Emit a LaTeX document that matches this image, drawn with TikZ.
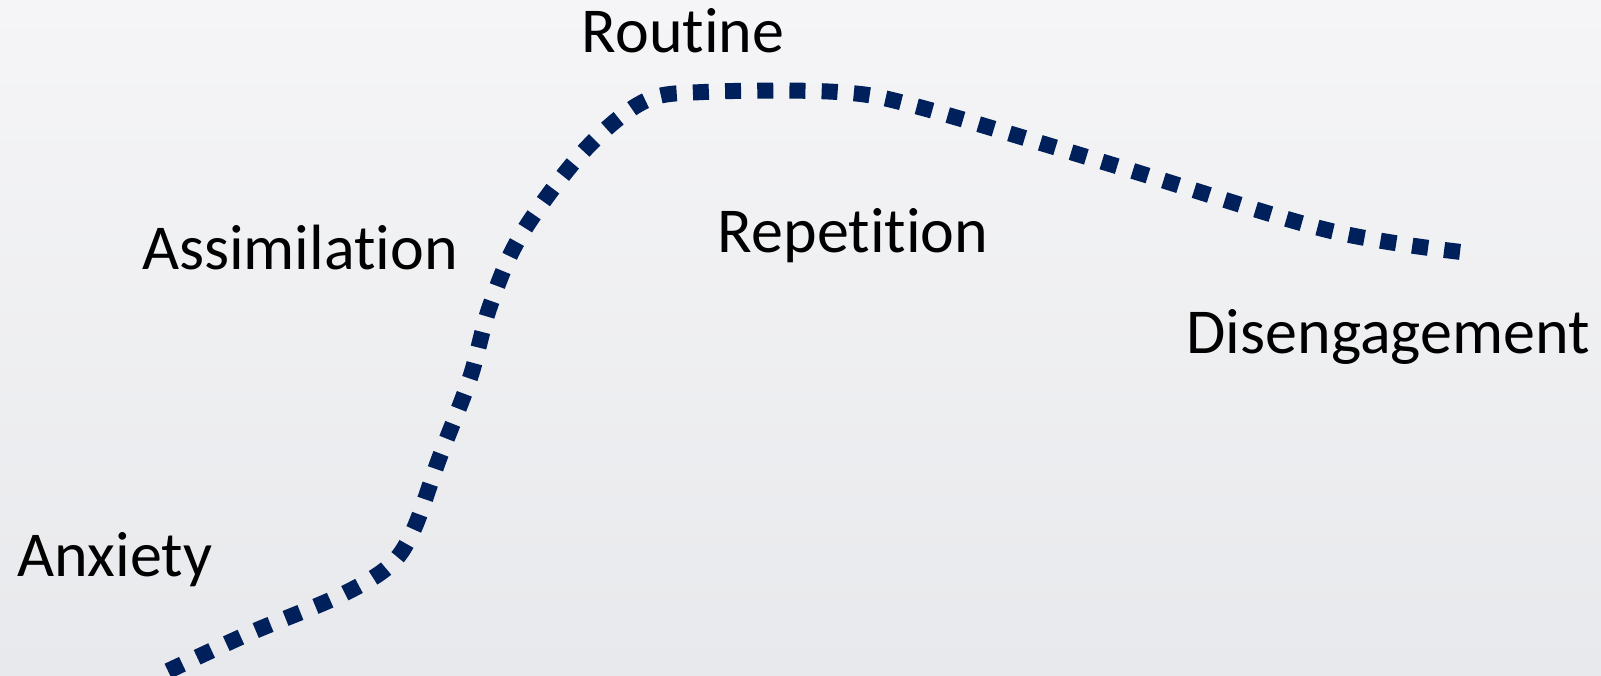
\documentclass[tikz,border=0pt]{standalone}
\usepackage{fontspec}
\setmainfont{Carlito}[Ligatures={NoCommon,NoRare,NoContextual}]
\definecolor{navy}{HTML}{00205B}
\definecolor{bgtop}{HTML}{F5F5F7}
\definecolor{bgbot}{HTML}{E8E9EC}
\begin{document}
\begin{tikzpicture}[x=1pt,y=1pt,
  lbl/.style={anchor=base,inner sep=0pt,font=\fontsize{64}{70}\selectfont,text=black},
  curve/.style={draw=navy,line width=16pt,dash pattern=on 16pt off 16.2pt}]
\shade[top color=bgtop,bottom color=bgbot] (0,0) rectangle (1601,676);
\useasboundingbox (0,0) rectangle (1601,676);
\draw[curve] plot[smooth,tension=0.55] coordinates {(168,5) (250,43) (337,79) (388,109) (413,145) (439,217) (470,298) (490,370) (521,441) (582,523) (643,574) (704,584) (837,584) (919,569) (1123,508) (1327,446) (1461,424)};
\node[lbl] (routine) at (683,623) {Routine};
\node[lbl] (assim) at (300,406) {Assimilation};
\node[lbl] (rep) at (853,423) {Repetition};
\node[lbl] (dis) at (1388,322) {Disengagement};
\node[lbl] (anx) at (115,99) {Anxiety};
\end{tikzpicture}
\end{document}
